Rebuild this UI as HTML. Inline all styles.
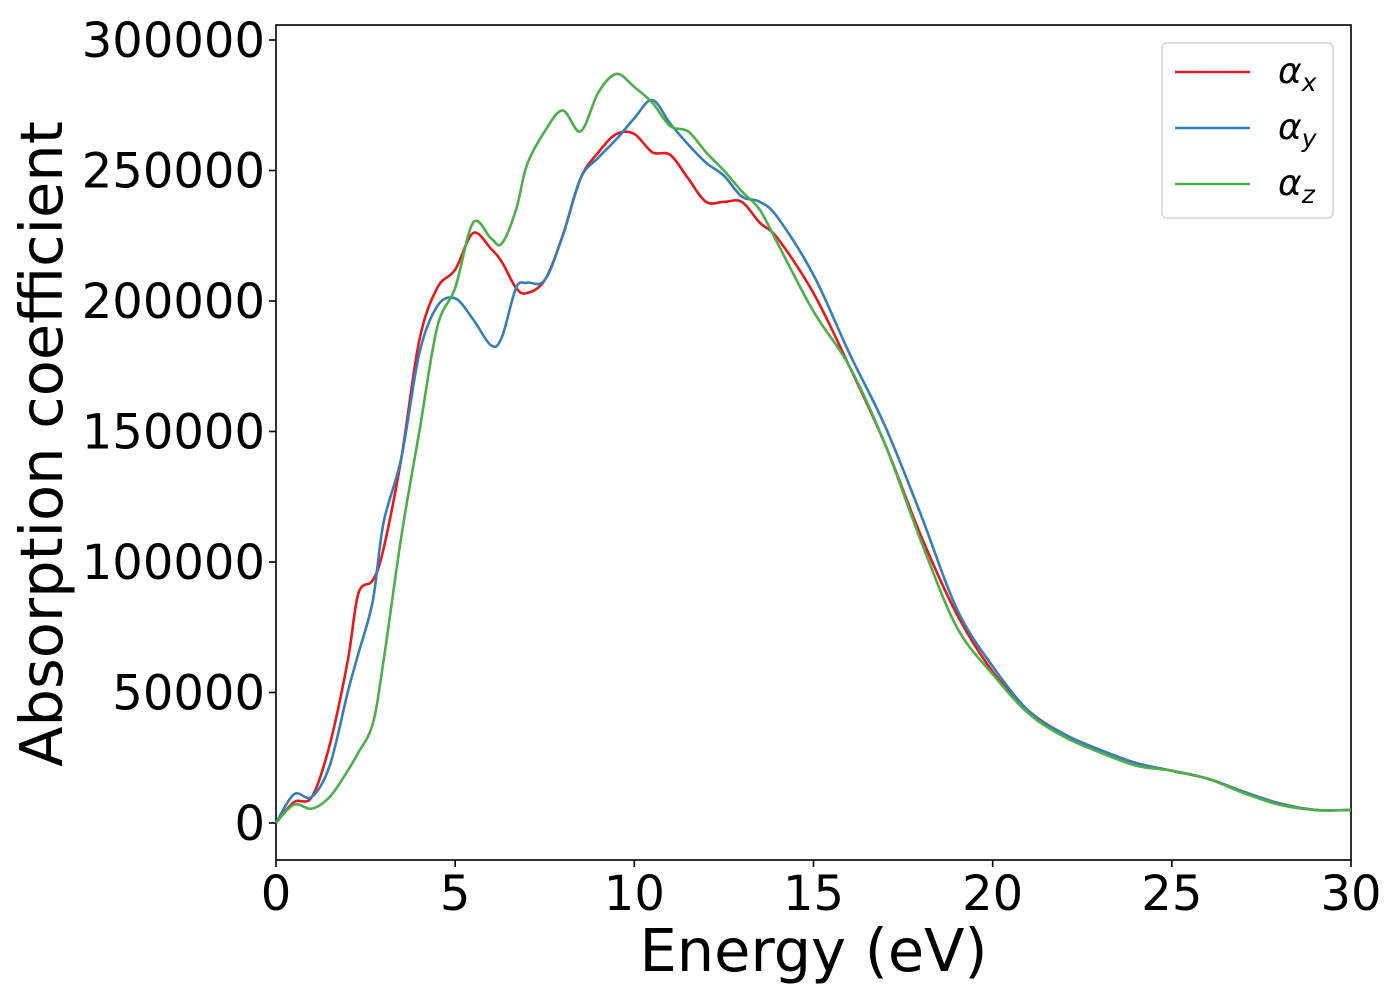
<!DOCTYPE html>
<html><head><meta charset="utf-8"><style>
html,body{margin:0;padding:0;background:#fff;}
svg{display:block;font-family:"DejaVu Sans","Liberation Sans",sans-serif;}
</style></head><body>
<svg id="chart" width="1400" height="1000"></svg>
<script>
const energies=[0,0.5,1,1.5,2,2.3,2.7,3,3.5,4,4.5,5,5.5,6,6.3,6.7,7,7.5,8,8.5,9,9.5,10,10.5,11,11.5,12,12.5,13,13.5,14,15,16,17,18,19,20,21,22,23,24,25,26,27,28,29,30];
const alphaX=[0,8000,10000,30000,62000,88000,93000,105000,140000,185000,205000,212000,226000,220000,215000,205000,203000,208000,225000,247000,257000,264000,264000,257000,256000,247000,238000,238000,238000,230000,224000,203000,175000,145000,110000,80000,58000,43000,34000,28000,23000,20000,17000,12000,7500,5000,5000];
const alphaY=[0,11000,10000,22000,50000,65000,85000,115000,140000,180000,198000,201000,193000,183000,186000,205000,207000,208000,225000,247000,255000,262000,270000,277000,268000,260000,253000,248000,240000,238000,232000,210000,180000,152000,118000,82000,60000,43000,34000,28000,23000,20000,17000,12000,7500,5000,5000];
const alphaZ=[0,7000,5500,10000,20000,27000,38000,62000,110000,150000,190000,205000,230000,224000,222000,235000,252000,265000,273000,265000,280000,287000,282000,276000,267000,265000,257000,250000,242000,235000,222000,196000,175000,145000,108000,75000,57000,42000,33000,27000,22000,20000,17000,11500,7000,5000,5000];
const xTicks=[0,5,10,15,20,25,30];
const yTicks=[0,50000,100000,150000,200000,250000,300000];
const seriesNames=["x","y","z"];
const colors=["#e41a1c","#377eb8","#4daf4a"];

const NS="http://www.w3.org/2000/svg";
const svg=document.getElementById('chart');
const L=276,R=1351,T=25,B=860;
const xs=e=>L+(e/30)*(R-L);
const ys=v=>823-(v/300000)*783;
function mk(tag,attrs,parent){const el=document.createElementNS(NS,tag);for(const k in attrs)el.setAttribute(k,attrs[k]);(parent||svg).appendChild(el);return el;}

const frame=mk('rect',{x:L,y:T,width:R-L,height:B-T,fill:'none',stroke:'#000','stroke-width':1.6});



xTicks.forEach(t=>{
  const ln=mk('line',{x1:xs(t),x2:xs(t),y1:B,y2:B+7,stroke:'#000','stroke-width':1.6});
  
  
  const tx=mk('text',{x:xs(t),y:B+50,'font-size':48,'text-anchor':'middle'});
  tx.textContent=t;
  
  
});
yTicks.forEach(t=>{
  const ln=mk('line',{x1:L-7,x2:L,y1:ys(t),y2:ys(t),stroke:'#000','stroke-width':1.6});
  
  
  const tx=mk('text',{x:L-11,y:ys(t)+17,'font-size':48,'text-anchor':'end'});
  tx.textContent=t;
  
  
});
const xl=mk('text',{x:(L+R)/2,y:971,'font-size':59,'text-anchor':'middle'});
xl.textContent='Energy (eV)';


const yl=mk('text',{x:0,y:0,'font-size':59,'text-anchor':'middle',transform:'translate(62,444) rotate(-90)'});
yl.textContent='Absorption coefficient';



function pathFor(vals){
  const p=energies.map((e,i)=>[xs(e),ys(vals[i])]);
  let d='M'+p[0][0]+','+p[0][1];
  for(let i=0;i<p.length-1;i++){
    const p0=p[Math.max(0,i-1)],p1=p[i],p2=p[i+1],p3=p[Math.min(p.length-1,i+2)];
    const c1=[p1[0]+(p2[0]-p0[0])/6,p1[1]+(p2[1]-p0[1])/6];
    const c2=[p2[0]-(p3[0]-p1[0])/6,p2[1]-(p3[1]-p1[1])/6];
    d+=`C${c1[0]},${c1[1]} ${c2[0]},${c2[1]} ${p2[0]},${p2[1]}`;
  }
  return d;
}
[alphaX,alphaY,alphaZ].forEach((vals,i)=>{
  const pth=mk('path',{d:pathFor(vals),fill:'none',stroke:colors[i],'stroke-width':2.6});
  
  
});

const lg=mk('g',{});


mk('rect',{x:1162,y:43,width:171,height:175,rx:5,fill:'#fff',stroke:'#ccc','stroke-width':1.3},lg);
seriesNames.forEach((n,i)=>{
  const y=72+i*56;
  const ln=mk('line',{x1:1175,x2:1250,y1:y,y2:y,stroke:colors[i],'stroke-width':2.6},lg);
  
  
  const t=mk('text',{x:1278,y:y+11,'font-size':36,'font-style':'italic'},lg);
  t.textContent='α';
  const s=mk('tspan',{'font-size':25,dy:8},t);
  s.textContent=n;
  
  
});
</script>
</body></html>
